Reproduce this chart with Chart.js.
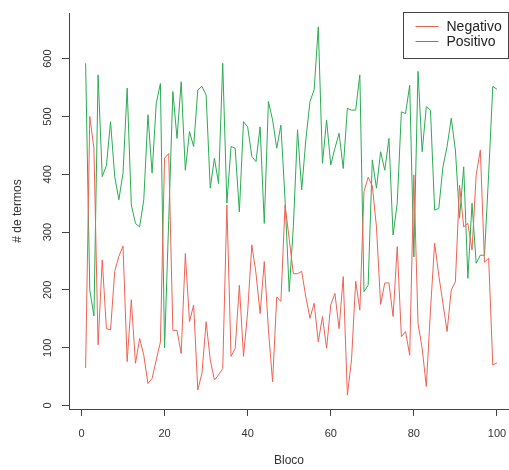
<!DOCTYPE html>
<html>
<head>
<meta charset="utf-8">
<script src="https://cdn.jsdelivr.net/npm/chart.js@4"></script>
<style>
  html, body { margin: 0; padding: 0; background: #fff; overflow: hidden; }
  canvas { display: block; }
</style>
</head>
<body>
<canvas id="chart" width="509" height="470"></canvas>
<script>
// blocos 1..100
const bloco = [
  1, 2, 3, 4, 5, 6, 7, 8, 9, 10, 11, 12, 13, 14, 15, 16, 17, 18, 19, 20,
  21, 22, 23, 24, 25, 26, 27, 28, 29, 30, 31, 32, 33, 34, 35, 36, 37, 38, 39, 40,
  41, 42, 43, 44, 45, 46, 47, 48, 49, 50, 51, 52, 53, 54, 55, 56, 57, 58, 59, 60,
  61, 62, 63, 64, 65, 66, 67, 68, 69, 70, 71, 72, 73, 74, 75, 76, 77, 78, 79, 80,
  81, 82, 83, 84, 85, 86, 87, 88, 89, 90, 91, 92, 93, 94, 95, 96, 97, 98, 99, 100
];

const negativo = [
  65, 500, 445, 105, 252, 133, 131, 232, 258, 276, 76, 183, 73, 116, 87, 38, 47, 79, 110, 428,
  436, 130, 130, 90, 263, 145, 174, 27, 56, 145, 79, 44, 53, 64, 347, 85, 99, 208, 85, 162,
  278, 229, 159, 249, 131, 41, 188, 180, 347, 288, 228, 228, 232, 188, 151, 177, 110, 154, 99, 174,
  194, 133, 223, 18, 79, 215, 165, 370, 395, 380, 309, 175, 212, 212, 154, 275, 119, 128, 87, 399,
  142, 99, 33, 165, 281, 225, 177, 128, 200, 214, 381, 309, 315, 269, 399, 442, 248, 255, 70, 74
];

const positivo = [
  592, 200, 155, 572, 396, 415, 491, 396, 356, 402, 549, 347, 315, 309, 356, 503, 402, 523, 557, 100,
  320, 543, 462, 560, 407, 474, 448, 546, 552, 537, 376, 428, 384, 592, 350, 448, 445, 335, 491, 482,
  431, 422, 482, 315, 526, 494, 445, 485, 356, 197, 310, 477, 373, 459, 526, 546, 655, 419, 494, 416,
  445, 471, 410, 514, 511, 511, 572, 197, 208, 425, 376, 439, 407, 462, 295, 350, 508, 505, 554, 257,
  578, 439, 517, 511, 338, 341, 413, 448, 497, 442, 324, 413, 220, 350, 246, 260, 260, 400, 552, 547
];

const xTicks = [0, 20, 40, 60, 80, 100];
const yTicks = [0, 100, 200, 300, 400, 500, 600];

const corNegativo = 'rgb(240, 98, 84)';
const corPositivo = 'rgb(42, 172, 82)';
const corEixo = '#444';
const fonte = '"Liberation Sans", Arial, sans-serif';

function pontos(valores) {
  return bloco.map((b, i) => ({ x: b, y: valores[i] }));
}

// legenda com caixa no canto superior direito, como no R
const caixaLegenda = {
  id: 'caixaLegenda',
  afterDraw(chart) {
    const ctx = chart.ctx;
    const area = chart.chartArea;
    const w = 106, h = 46;
    const left = area.right - w + 0.5;
    const top = area.top - 0.5;

    ctx.save();
    ctx.fillStyle = '#fff';
    ctx.fillRect(left, top, w - 1, h);
    ctx.strokeStyle = corEixo;
    ctx.lineWidth = 1;
    ctx.strokeRect(left, top, w - 1, h);

    ctx.font = '14px ' + fonte;
    ctx.textBaseline = 'middle';
    ctx.fillStyle = '#222';
    chart.data.datasets.forEach((ds, i) => {
      const y = top + 15 + i * 15;
      ctx.strokeStyle = ds.borderColor;
      ctx.beginPath();
      ctx.moveTo(left + 12, y - 1);
      ctx.lineTo(left + 35, y - 1);
      ctx.stroke();
      ctx.fillText(ds.label, left + 43, y);
    });
    ctx.restore();
  }
};

const ctx = document.getElementById('chart').getContext('2d');
new Chart(ctx, {
  type: 'line',
  data: {
    datasets: [
      {
        label: 'Negativo',
        data: pontos(negativo),
        borderColor: corNegativo,
        borderWidth: 1,
        pointRadius: 0,
        tension: 0
      },
      {
        label: 'Positivo',
        data: pontos(positivo),
        borderColor: corPositivo,
        borderWidth: 1,
        pointRadius: 0,
        tension: 0
      }
    ]
  },
  options: {
    responsive: false,
    animation: false,
    devicePixelRatio: 1,
    layout: { padding: { top: 13, right: 0, left: 0, bottom: 0 } },
    plugins: {
      legend: { display: false },
      tooltip: { enabled: false }
    },
    scales: {
      x: {
        type: 'linear',
        min: -3,
        max: 102.9,
        afterBuildTicks: (scale) => { scale.ticks = xTicks.map(v => ({ value: v })); },
        afterFit: (scale) => {
          scale.height = 61;
          scale.paddingLeft = 0;
          scale.paddingRight = 0;
        },
        grid: { drawOnChartArea: false, drawTicks: true, tickLength: 7, color: corEixo },
        border: { display: true, color: corEixo },
        ticks: { color: '#333', font: { family: fonte, size: 11 }, padding: 11, maxRotation: 0 },
        title: { display: true, text: 'Bloco', color: '#333', font: { family: fonte, size: 12 }, padding: { top: 10, bottom: 2 } }
      },
      y: {
        min: -6,
        max: 679,
        afterBuildTicks: (scale) => { scale.ticks = yTicks.map(v => ({ value: v })); },
        afterFit: (scale) => {
          scale.width = 69;
          scale.paddingTop = 0;
          scale.paddingBottom = 0;
        },
        grid: { drawOnChartArea: false, drawTicks: true, tickLength: 7, color: corEixo },
        border: { display: true, color: corEixo },
        ticks: { color: '#333', font: { family: fonte, size: 11 }, padding: 5, minRotation: 90, maxRotation: 90, crossAlign: 'center' },
        title: { display: true, text: '# de termos', color: '#333', font: { family: fonte, size: 12 }, padding: { top: 10, bottom: 0 } }
      }
    }
  },
  plugins: [caixaLegenda]
});
</script>
</body>
</html>
